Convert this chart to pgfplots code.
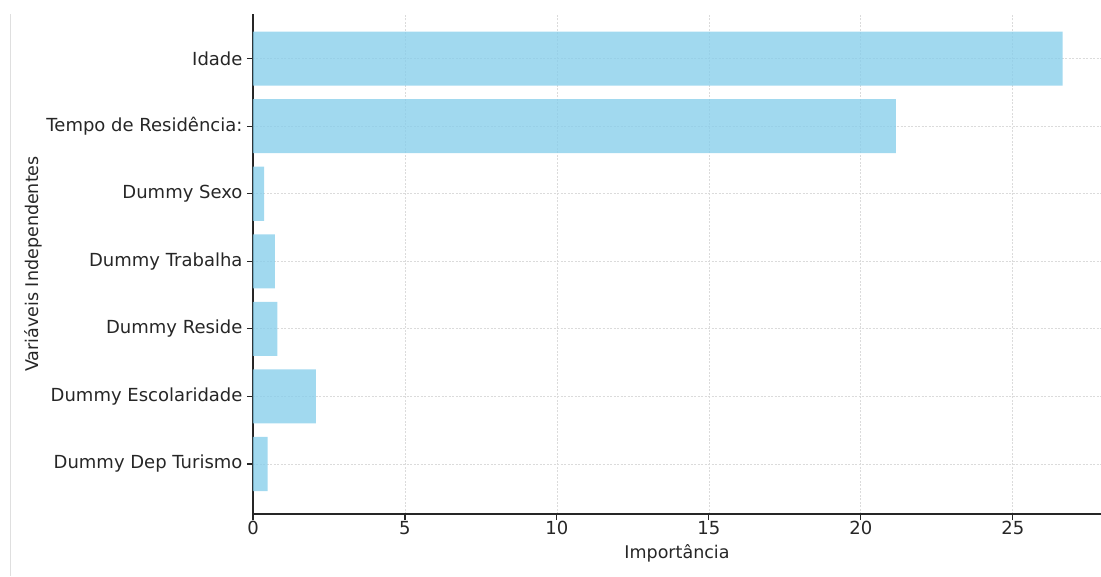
\documentclass[border=0pt]{standalone}
\usepackage{pgfplots}
\pgfplotsset{compat=1.18}
\usepackage{fontspec}
\setmainfont{DejaVu Sans}
\usetikzlibrary{calc}
\definecolor{barblue}{RGB}{135,206,235}
\definecolor{txt}{RGB}{38,38,38}
\begin{document}
\begin{tikzpicture}
\begin{axis}[
  name=ax,
  scale only axis,
  width=848pt, height=500pt,
  xmin=0, xmax=27.9,
  ymin=-0.74, ymax=6.66,
  xbar, bar width=0.8,
  axis x line*=bottom, axis y line*=left,
  axis line style={line width=1.3pt, black!85},
  tick style={line width=1.1pt, black!85},
  tick align=outside,
  major tick length=6pt,
  xtick={0,5,10,15,20,25},
  ytick={0,1,2,3,4,5,6},
  yticklabels={Dummy Dep Turismo,Dummy Escolaridade,Dummy Reside,Dummy Trabalha,Dummy Sexo,Tempo de Residência:,Idade},
  grid=major,
  grid style={dash pattern=on 2pt off 1.5pt, gray!28, line width=0.8pt},
  ticklabel style={font=\fontsize{18}{21}\selectfont, text=txt},
  /pgf/number format/assume math mode=true,
  label style={font=\fontsize{17.5}{21}\selectfont, text=txt},
  xlabel={Importância},
  ylabel={Variáveis Independentes},
  xlabel style={yshift=-2pt},
  ylabel style={yshift=-3pt},
  yticklabel style={xshift=-1pt},
  xticklabel style={yshift=2pt},
]
\addplot[draw=none, fill=barblue, fill opacity=0.78] coordinates {
  (0.48,0) (2.07,1) (0.80,2) (0.72,3) (0.37,4) (21.15,5) (26.64,6)
};
\end{axis}
\draw[gray!25, line width=1pt] ($(ax.south west)+(-242pt,-62pt)$) -- ($(ax.north west)+(-242pt,0pt)$);
\pgfresetboundingbox
\path ($(ax.south west)+(-253pt,-62pt)$) rectangle ($(ax.north east)+(0pt,14pt)$);
\end{tikzpicture}
\end{document}
